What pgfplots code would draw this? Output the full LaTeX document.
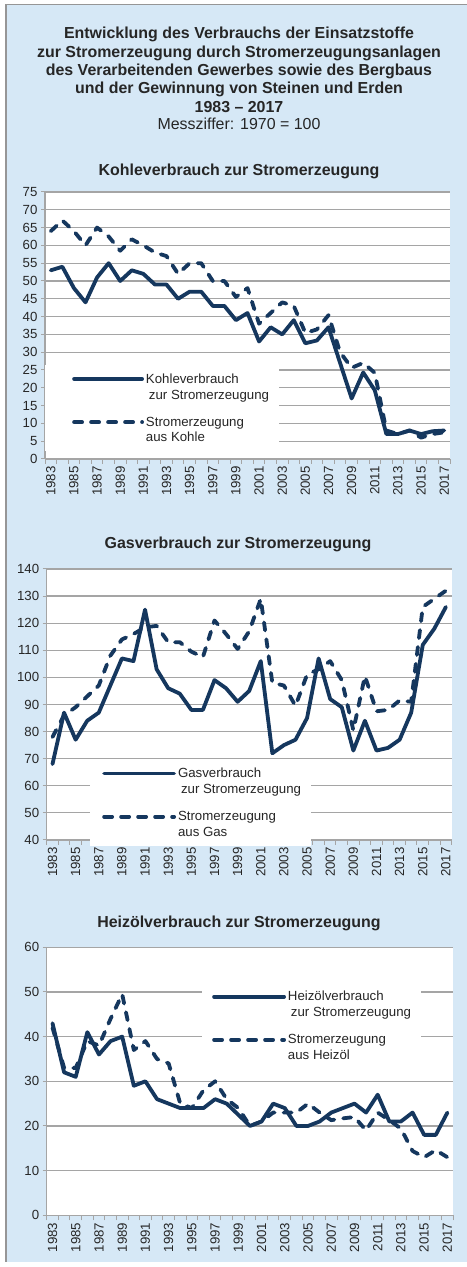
\documentclass[border=0pt]{standalone}
\usepackage{fontspec}
\setmainfont{Liberation Sans}
\usepackage{pgfplots}
\usepackage{pgfplotstable}
\pgfplotsset{compat=1.18}
\definecolor{bgblue}{RGB}{214,232,246}
\definecolor{navy}{RGB}{21,55,94}
\definecolor{gridgray}{RGB}{165,165,165}
\definecolor{txt}{RGB}{38,38,38}
\definecolor{frame}{RGB}{150,150,150}

\pgfplotstableread{
year solid dashed
1983 53 64
1984 54 67
1985 48 64
1986 44 60
1987 51 65
1988 55 62.5
1989 50 58.5
1990 53 61.7
1991 52 60
1992 49 58
1993 49 57
1994 45 52
1995 47 55
1996 47 55
1997 43 50
1998 43 50
1999 39 45.5
2000 41 48
2001 33 38
2002 37 41
2003 35 44
2004 39 43
2005 32.5 35.4
2006 33.3 36.4
2007 37 40.4
2008 27 30
2009 17 25.6
2010 24.3 27
2011 19.3 24.2
2012 7 8
2013 7 7
2014 8 8
2015 7 6
2016 7.8 7
2017 8 7.5
}\kohle

\pgfplotstableread{
year solid dashed
1983 68 78
1984 87 86
1985 77 89
1986 84 93
1987 87 97
1988 97 108
1989 107 114
1990 106 116
1991 125 118.5
1992 103 119
1993 96 113
1994 94 113
1995 88 109.5
1996 88 107.5
1997 99 121
1998 96 116
1999 91 110.5
2000 95 117
2001 106 129
2002 72 98
2003 75 97
2004 77 89.5
2005 85 101
2006 107 103
2007 92 106
2008 89 99
2009 73 80.5
2010 84 100.5
2011 73 87.5
2012 74 88
2013 77 91.5
2014 87 91
2015 112 126
2016 118 129
2017 126 132
}\gas

\pgfplotstableread{
year solid dashed
1983 43 42
1984 32 33
1985 31 33
1986 41 39
1987 36 38
1988 39 44
1989 40 49.5
1990 29 37
1991 30 39
1992 26 35
1993 25 34
1994 24 25
1995 24 24
1996 24 28
1997 26 30
1998 25 26
1999 22.5 24
2000 20 20
2001 21 21
2002 25 23
2003 24 23
2004 20 23
2005 20 25
2006 21 23
2007 23 21.3
2008 24 21.7
2009 25 22
2010 23 19
2011 27 23
2012 21 21.3
2013 21 19.4
2014 23 14.4
2015 18 13
2016 18 14.6
2017 23 13
}\oel

\pgfplotsset{
  /pgf/number format/assume math mode=true,
  /pgf/number format/1000 sep={},
  solidline/.style={navy, line width=3.8bp, line join=round, line cap=round},
  dashline/.style={navy, line width=3.8bp, line join=round, line cap=round, dash pattern=on 8bp off 9bp},
  mychart/.style={
    scale only axis,
    anchor=north west,
    xmin=1982.5, xmax=2017.5,
    axis x line*=bottom, axis y line*=left,
    axis line style={gridgray, line width=1.2bp, -},
    ymajorgrids,
    major grid style={gridgray, line width=1.2bp},
    axis background/.style={fill=white},
    xtick={1983,1985,...,2017},
    minor xtick={1982.5,1983.5,...,2017.5},
    tick align=outside,
    major tick length=4bp,
    minor tick length=5bp,
    every tick/.style={gridgray, line width=1bp},
    major x tick style={draw=none},
    tick label style={font=\fontsize{13.3}{16}\selectfont, text=txt},
    xticklabel style={rotate=90, anchor=east},
    legend cell align=left,
    legend style={draw=none, fill=white, text=txt,
      font=\fontsize{13.3}{16}\selectfont,
      cells={align=left},
      inner xsep=8bp, inner ysep=6bp, row sep=12.3bp},
  },
}

\begin{document}
\begin{tikzpicture}
\path[use as bounding box] (0,0) rectangle (467bp,1267bp);
\fill[bgblue] (5bp,5bp) rectangle (467bp,1262bp);
\draw[frame, line width=1bp] (5.5bp,1262bp) -- (467bp,1262bp);
\draw[frame, line width=2bp] (6bp,5bp) -- (6bp,1263bp);

\begin{scope}[font=\fontsize{16}{18.4}\selectfont, text=txt]
\node[anchor=base, font=\fontsize{16}{18.4}\selectfont\bfseries] at (239bp,1228bp) {Entwicklung des Verbrauchs der Einsatzstoffe};
\node[anchor=base, font=\fontsize{16}{18.4}\selectfont\bfseries] at (239bp,1209.7bp) {zur Stromerzeugung durch Stromerzeugungsanlagen};
\node[anchor=base, font=\fontsize{16}{18.4}\selectfont\bfseries] at (239bp,1191.3bp) {des Verarbeitenden Gewerbes sowie des Bergbaus};
\node[anchor=base, font=\fontsize{16}{18.4}\selectfont\bfseries] at (239bp,1173bp) {und der Gewinnung von Steinen und Erden};
\node[anchor=base, font=\fontsize{16}{18.4}\selectfont\bfseries] at (239bp,1154.7bp) {1983 -- 2017};
\node[anchor=base] at (239bp,1137bp) {Messziffer: 1970 = 100};
\node[anchor=base, font=\fontsize{16}{18.4}\selectfont\bfseries] at (239bp,1091.3bp) {Kohleverbrauch zur Stromerzeugung};
\node[anchor=base, font=\fontsize{16}{18.4}\selectfont\bfseries] at (238bp,718.7bp) {Gasverbrauch zur Stromerzeugung};
\node[anchor=base, font=\fontsize{16}{18.4}\selectfont\bfseries] at (239bp,339.3bp) {Heizölverbrauch zur Stromerzeugung};
\end{scope}

% Chart 1: Kohle
\begin{axis}[mychart, at={(45bp,1075bp)}, width=405bp, height=267bp,
  ymin=0, ymax=75, ytick={0,5,...,75},
  legend style={at={(0,0.351)}, anchor=north west},
  legend image code/.code={\path (0bp,0bp); \draw[#1] (19bp,8bp) -- (87bp,8bp);}]
\addplot[solidline] table[x=year,y=solid]{\kohle};
\addlegendentry{Kohleverbrauch\\\hspace{3bp}zur Stromerzeugung}
\addplot[dashline] table[x=year,y=dashed]{\kohle};
\addlegendentry{Stromerzeugung\\aus Kohle}
\end{axis}

% Chart 2: Gas
\begin{axis}[mychart, at={(46.7bp,698bp)}, width=405bp, height=271bp,
  ymin=40, ymax=140, ytick={40,50,...,140},
  legend style={at={(0.107,0.296)}, anchor=north west},
  legend image code/.code={\path (0bp,0bp); \draw[#1] (4bp,8bp) -- (74bp,8bp);}]
\addplot[solidline] table[x=year,y=solid]{\gas};
\addlegendentry{Gasverbrauch\\\hspace{3bp}zur Stromerzeugung}
\addplot[dashline] table[x=year,y=dashed]{\gas};
\addlegendentry{Stromerzeugung\\aus Gas}
\end{axis}

% Chart 3: Heizoel
\begin{axis}[mychart, at={(46.7bp,319.7bp)}, width=406.5bp, height=268bp,
  ymin=0, ymax=60, ytick={0,10,...,60},
  legend style={at={(0.382,0.867)}, anchor=north west},
  legend image code/.code={\path (0bp,0bp); \draw[#1] (2bp,8bp) -- (72bp,8bp);}]
\addplot[solidline] table[x=year,y=solid]{\oel};
\addlegendentry{Heizölverbrauch\\\hspace{3bp}zur Stromerzeugung}
\addplot[dashline] table[x=year,y=dashed]{\oel};
\addlegendentry{Stromerzeugung\\aus Heizöl}
\end{axis}
\end{tikzpicture}
\end{document}
